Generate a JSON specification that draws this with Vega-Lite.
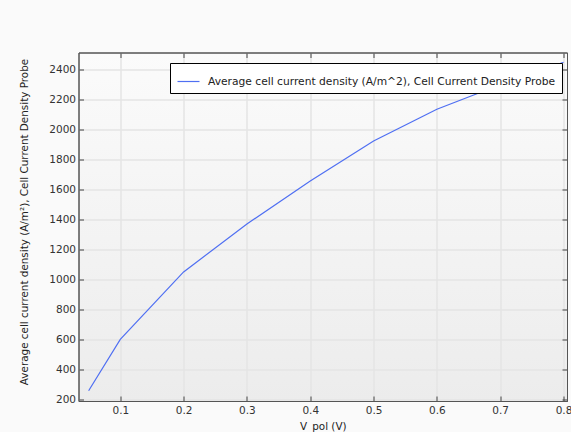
{
  "$schema": "https://vega.github.io/schema/vega-lite/v6.json",
  "width": 488.5,
  "height": 348.5,
  "autosize": {"type": "none"},
  "padding": {"left": 78.5, "top": 52.5, "right": 4, "bottom": 31},
  "background": "#fafafa",
  "data": {
    "values": [
      {"v": 0.05, "j": 255, "s": "Average cell current density (A/m^2), Cell Current Density Probe"},
      {"v": 0.1, "j": 597, "s": "Average cell current density (A/m^2), Cell Current Density Probe"},
      {"v": 0.2, "j": 1047, "s": "Average cell current density (A/m^2), Cell Current Density Probe"},
      {"v": 0.3, "j": 1367, "s": "Average cell current density (A/m^2), Cell Current Density Probe"},
      {"v": 0.4, "j": 1653, "s": "Average cell current density (A/m^2), Cell Current Density Probe"},
      {"v": 0.5, "j": 1920, "s": "Average cell current density (A/m^2), Cell Current Density Probe"},
      {"v": 0.6, "j": 2132, "s": "Average cell current density (A/m^2), Cell Current Density Probe"},
      {"v": 0.7, "j": 2295, "s": "Average cell current density (A/m^2), Cell Current Density Probe"},
      {"v": 0.8, "j": 2445, "s": "Average cell current density (A/m^2), Cell Current Density Probe"}
    ]
  },
  "config": {
    "font": "DejaVu Sans",
    "view": {
      "stroke": "#555555",
      "strokeWidth": 1,
      "fill": {"gradient": "linear", "x1": 0, "y1": 0, "x2": 0, "y2": 1, "stops": [{"offset": 0, "color": "#fbfbfb"}, {"offset": 1, "color": "#ececec"}]}
    },
    "axis": {
      "labelFont": "DejaVu Sans",
      "labelFontSize": 10.5,
      "labelColor": "#333333",
      "titleFont": "DejaVu Sans",
      "titleFontSize": 10.4,
      "titleFontWeight": "normal",
      "titleColor": "#222222",
      "domainColor": "#555555",
      "tickColor": "#444444",
      "tickSize": -5,
      "gridColor": "#e4e4e4",
      "gridWidth": 1.5
    }
  },
  "layer": [
    {
      "mark": {"type": "line", "strokeWidth": 1.2},
      "encoding": {
        "x": {
          "field": "v", "type": "quantitative",
          "scale": {"domain": [0.034, 0.8055], "nice": false, "zero": false},
          "axis": {"values": [0.1, 0.2, 0.3, 0.4, 0.5, 0.6, 0.7, 0.8], "format": ".1f", "title": "V_pol (V)", "labelPadding": 9.5, "titlePadding": 5.5, "labelFlush": false}
        },
        "y": {
          "field": "j", "type": "quantitative",
          "scale": {"domain": [186.7, 2510], "nice": false, "zero": false},
          "axis": {"values": [200, 400, 600, 800, 1000, 1200, 1400, 1600, 1800, 2000, 2200, 2400], "format": "d", "title": "Average cell current density (A/m²), Cell Current Density Probe", "labelPadding": 8, "titlePadding": 19.5, "titleY": 169, "labelFlush": false}
        },
        "color": {
          "field": "s", "type": "nominal",
          "scale": {"range": ["#4f6ff2"]},
          "legend": {
            "title": null, "orient": "none", "legendX": 91.5, "legendY": 10.5,
            "fillColor": "#ffffff", "strokeColor": "#000000", "padding": 6.5,
            "symbolType": "stroke", "symbolSize": 484, "symbolStrokeWidth": 1.2,
            "labelFont": "DejaVu Sans", "labelFontSize": 10.7, "labelColor": "#222222", "labelOffset": 7.5, "labelLimit": 500
          }
        }
      }
    },
    {
      "mark": {"type": "line", "opacity": 0},
      "encoding": {
        "x": {"field": "v", "type": "quantitative", "axis": {"orient": "top", "values": [0.1, 0.2, 0.3, 0.4, 0.5, 0.6, 0.7, 0.8], "labels": false, "title": null, "grid": false}},
        "y": {"field": "j", "type": "quantitative", "axis": {"orient": "right", "values": [200, 400, 600, 800, 1000, 1200, 1400, 1600, 1800, 2000, 2200, 2400], "labels": false, "title": null, "grid": false}}
      }
    }
  ],
  "resolve": {"axis": {"x": "independent", "y": "independent"}}
}
